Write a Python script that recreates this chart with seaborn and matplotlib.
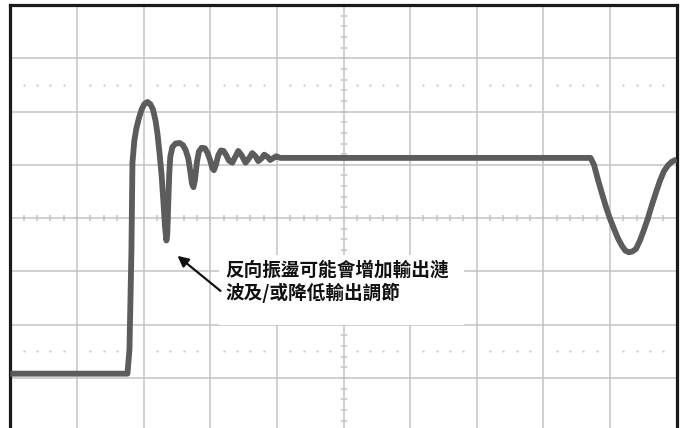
import numpy as np
import pandas as pd
import seaborn as sns
import matplotlib.pyplot as plt
from matplotlib.patches import Rectangle

# waveform trace, in scope divisions (x: 0..10, y: -4..4)
trace_x = [0.0, 1.757, 1.787, 1.817, 1.832, 1.86, 1.89, 1.93, 1.97, 2.01,
           2.057, 2.10, 2.14, 2.18, 2.21, 2.24, 2.27, 2.30, 2.32, 2.342,
           2.355, 2.37, 2.385, 2.40, 2.43, 2.48, 2.54, 2.59, 2.63, 2.67,
           2.70, 2.725, 2.748, 2.77, 2.80, 2.83, 2.87, 2.92, 2.96, 3.00,
           3.03, 3.055, 3.08, 3.12, 3.16, 3.20, 3.24, 3.28, 3.33, 3.38,
           3.42, 3.47, 3.53, 3.58, 3.63, 3.68, 3.72, 3.77, 3.81, 3.86,
           3.90, 3.95, 3.99, 4.05, 8.709, 8.76, 8.82, 8.88, 8.94, 9.00,
           9.06, 9.12, 9.18, 9.23, 9.28, 9.33, 9.39, 9.45, 9.51, 9.57,
           9.63, 9.69, 9.75, 9.81, 9.87, 9.93, 10.0]
trace_y = [-2.92, -2.92, -2.47, -0.60, 1.04, 1.45, 1.68, 1.88, 2.04, 2.14,
           2.18, 2.14, 2.04, 1.82, 1.56, 1.20, 0.80, 0.25, -0.15, -0.42,
           -0.30, 0.30, 0.85, 1.15, 1.33, 1.40, 1.41, 1.37, 1.28, 1.12,
           0.88, 0.65, 0.58, 0.72, 1.05, 1.25, 1.32, 1.31, 1.22, 1.08,
           0.94, 0.90, 0.98, 1.18, 1.27, 1.26, 1.18, 1.08, 1.04, 1.16,
           1.26, 1.18, 1.04, 1.12, 1.22, 1.16, 1.07, 1.12, 1.19, 1.15,
           1.09, 1.13, 1.16, 1.13, 1.13, 1.00, 0.72, 0.46, 0.21, -0.01,
           -0.20, -0.38, -0.52, -0.61, -0.64, -0.63, -0.58, -0.42, -0.22, 0.0,
           0.25, 0.48, 0.70, 0.88, 0.99, 1.06, 1.10]

note_lines = ["反向振盪可能會增加輸出漣", "波及/或降低輸出調節"]
arrow_tail = (3.153, -1.366)
arrow_head = (2.508, -0.709)

sns.set_style("white")
plt.rcParams["font.family"] = ["Noto Sans CJK TC", "DejaVu Sans"]

fig = plt.figure(figsize=(6.82, 4.28), dpi=100)
ax = fig.add_axes([10.4 / 682, 0, 666.2 / 682, 423 / 428])
ax.set_xlim(0, 10)
ax.set_ylim(-3.94, 4)

grid_c = "#c4c4c4"
for gx in range(1, 10):
    ax.axvline(gx, color=grid_c, lw=1.1, zorder=1)
for gy in range(-3, 4):
    ax.axhline(gy, color=grid_c, lw=1.1, zorder=1)

# minor ticks on the centre lines
minor = np.arange(0, 10.01, 0.2)
ax.plot(minor, np.zeros_like(minor), ls="none", marker="|", ms=5, mew=1.1,
        color=grid_c, zorder=1)
minor_y = np.arange(-4, 4.01, 0.2)
ax.plot(np.full_like(minor_y, 5), minor_y, ls="none", marker="_", ms=5, mew=1.1,
        color=grid_c, zorder=1)

# dotted reference levels
dots = np.array([v for v in minor if abs(v - round(v)) > 0.01])
for lvl in (2.5, -2.5):
    ax.plot(dots, np.full_like(dots, lvl), ls="none", marker="o", ms=1.6,
            color="#c8c8c8", mew=0, zorder=1)

df = pd.DataFrame({"x": trace_x, "y": trace_y})
sns.lineplot(data=df, x="x", y="y", sort=False, color="#5c5c5c", lw=4.2,
             ax=ax, zorder=3, solid_joinstyle="round", solid_capstyle="butt")

# annotation box and text
ax.add_patch(Rectangle((3.138, -2.004), 3.664, 1.314, facecolor="white",
                       edgecolor="none", zorder=4))
ax.text(3.23, -0.79, "\n".join(note_lines), ha="left", va="top",
        fontsize=13.4, fontweight="bold", linespacing=1.2, color="#111111",
        zorder=5)
ax.annotate("", xy=arrow_head, xytext=arrow_tail,
            arrowprops=dict(arrowstyle="-|>", color="#111111", lw=1.6,
                            mutation_scale=16, shrinkA=0, shrinkB=0),
            zorder=5)

ax.set_xlabel("")
ax.set_ylabel("")
ax.set_xticks([])
ax.set_yticks([])
for side in ("left", "top", "right"):
    ax.spines[side].set_color("#1a1a1a")
    ax.spines[side].set_linewidth(2.3)
ax.spines["bottom"].set_visible(False)

fig.savefig("out.png", dpi=100)
